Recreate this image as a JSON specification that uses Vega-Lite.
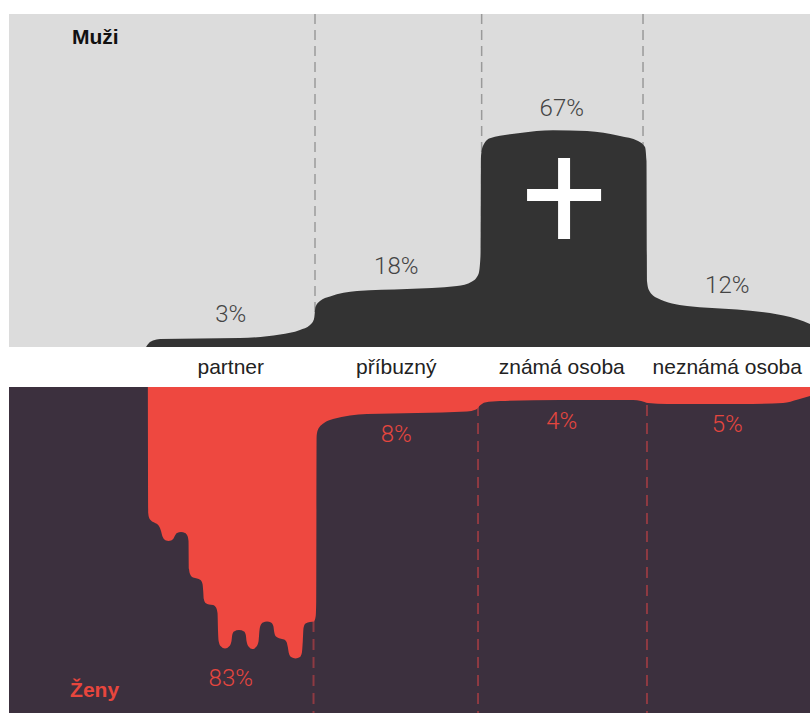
{
  "$schema": "https://vega.github.io/schema/vega-lite/v6.json",
  "background": "white",
  "padding": {"left": 9, "top": 13, "right": 0, "bottom": 0},
  "bounds": "flush",
  "spacing": 40,
  "config": {"view": {"stroke": null}},
  "datasets": {
    "categories": [
      {"category": "partner", "pos": 0.5, "muzi": 0.03, "zeny": 0.83},
      {"category": "příbuzný", "pos": 1.5, "muzi": 0.18, "zeny": 0.08},
      {"category": "známá osoba", "pos": 2.5, "muzi": 0.67, "zeny": 0.04},
      {"category": "neznámá osoba", "pos": 3.5, "muzi": 0.12, "zeny": 0.05}
    ],
    "dividers_muzi": [{"x": 1.009}, {"x": 2.016}, {"x": 2.991}],
    "dividers_zeny": [{"x": 1.0}, {"x": 1.994}, {"x": 3.015}],
    "outline_muzi": [
      {"x": -0.012, "y": 0}, {"x": 0.006, "y": 0.0124}, {"x": 0.03, "y": 0.02}, {"x": 0.073, "y": 0.0248},
      {"x": 0.314, "y": 0.0263}, {"x": 0.556, "y": 0.0279}, {"x": 0.798, "y": 0.0387}, {"x": 0.918, "y": 0.0526},
      {"x": 0.979, "y": 0.0681}, {"x": 1.003, "y": 0.0867}, {"x": 1.012, "y": 0.1238}, {"x": 1.039, "y": 0.1424},
      {"x": 1.1, "y": 0.1563}, {"x": 1.263, "y": 0.1734}, {"x": 1.565, "y": 0.1796}, {"x": 1.867, "y": 0.1889},
      {"x": 1.958, "y": 0.2028}, {"x": 1.997, "y": 0.226}, {"x": 2.009, "y": 0.282}, {"x": 2.012, "y": 0.591},
      {"x": 2.024, "y": 0.622}, {"x": 2.066, "y": 0.646}, {"x": 2.248, "y": 0.6625}, {"x": 2.447, "y": 0.671},
      {"x": 2.653, "y": 0.669}, {"x": 2.852, "y": 0.653}, {"x": 2.961, "y": 0.638}, {"x": 3.003, "y": 0.619},
      {"x": 3.012, "y": 0.576}, {"x": 3.015, "y": 0.204}, {"x": 3.027, "y": 0.176}, {"x": 3.076, "y": 0.152},
      {"x": 3.257, "y": 0.127}, {"x": 3.559, "y": 0.116}, {"x": 3.758, "y": 0.105}, {"x": 3.921, "y": 0.0867},
      {"x": 4.0, "y": 0.0712}
    ],
    "outline_zeny": [
      {"x": -0.001, "y": 0}, {"x": 0.0012, "y": 0.3877}, {"x": 0.006, "y": 0.4015}, {"x": 0.0181, "y": 0.4108},
      {"x": 0.0363, "y": 0.4169}, {"x": 0.0544, "y": 0.4215}, {"x": 0.0695, "y": 0.4308}, {"x": 0.0785, "y": 0.4431},
      {"x": 0.0846, "y": 0.4554}, {"x": 0.0937, "y": 0.4662}, {"x": 0.1088, "y": 0.4723}, {"x": 0.1239, "y": 0.4738},
      {"x": 0.139, "y": 0.4723}, {"x": 0.1541, "y": 0.4662}, {"x": 0.1631, "y": 0.4569}, {"x": 0.1752, "y": 0.4492},
      {"x": 0.1994, "y": 0.4462}, {"x": 0.2236, "y": 0.4492}, {"x": 0.2387, "y": 0.4585}, {"x": 0.2447, "y": 0.4738},
      {"x": 0.2477, "y": 0.56}, {"x": 0.2538, "y": 0.5754}, {"x": 0.2719, "y": 0.5862}, {"x": 0.2961, "y": 0.5892},
      {"x": 0.3172, "y": 0.5938}, {"x": 0.3293, "y": 0.6062}, {"x": 0.3335, "y": 0.6277}, {"x": 0.3372, "y": 0.6523},
      {"x": 0.3474, "y": 0.6646}, {"x": 0.3686, "y": 0.6692}, {"x": 0.3927, "y": 0.6708}, {"x": 0.4109, "y": 0.6785},
      {"x": 0.4199, "y": 0.6954}, {"x": 0.423, "y": 0.7508}, {"x": 0.4266, "y": 0.7815}, {"x": 0.4381, "y": 0.7969},
      {"x": 0.4653, "y": 0.8046}, {"x": 0.4924, "y": 0.7969}, {"x": 0.5045, "y": 0.7815}, {"x": 0.5088, "y": 0.7631},
      {"x": 0.5196, "y": 0.7523}, {"x": 0.5498, "y": 0.7477}, {"x": 0.5801, "y": 0.7523}, {"x": 0.5909, "y": 0.7631},
      {"x": 0.5952, "y": 0.7815}, {"x": 0.6073, "y": 0.7985}, {"x": 0.6314, "y": 0.8062}, {"x": 0.6556, "y": 0.7985},
      {"x": 0.6683, "y": 0.7815}, {"x": 0.6731, "y": 0.7508}, {"x": 0.6798, "y": 0.7338}, {"x": 0.6949, "y": 0.7246},
      {"x": 0.719, "y": 0.7215}, {"x": 0.7432, "y": 0.7246}, {"x": 0.7571, "y": 0.7354}, {"x": 0.7625, "y": 0.7538},
      {"x": 0.7734, "y": 0.7677}, {"x": 0.7976, "y": 0.7738}, {"x": 0.8218, "y": 0.7769}, {"x": 0.8369, "y": 0.7846},
      {"x": 0.8447, "y": 0.8}, {"x": 0.8508, "y": 0.8185}, {"x": 0.864, "y": 0.8308}, {"x": 0.8912, "y": 0.8354},
      {"x": 0.9184, "y": 0.8308}, {"x": 0.9305, "y": 0.8154}, {"x": 0.9353, "y": 0.7815}, {"x": 0.9396, "y": 0.7415},
      {"x": 0.9517, "y": 0.7277}, {"x": 0.9789, "y": 0.7231}, {"x": 1.003, "y": 0.7215}, {"x": 1.0133, "y": 0.7046},
      {"x": 1.0163, "y": 0.6585}, {"x": 1.0187, "y": 0.1538}, {"x": 1.0272, "y": 0.1308}, {"x": 1.0634, "y": 0.1108},
      {"x": 1.1178, "y": 0.0985}, {"x": 1.323, "y": 0.0831}, {"x": 1.625, "y": 0.08}, {"x": 1.927, "y": 0.0754},
      {"x": 1.982, "y": 0.0692}, {"x": 2.009, "y": 0.0554}, {"x": 2.036, "y": 0.0477}, {"x": 2.127, "y": 0.0431},
      {"x": 2.489, "y": 0.04}, {"x": 2.931, "y": 0.04}, {"x": 2.979, "y": 0.0431}, {"x": 3.021, "y": 0.0492},
      {"x": 3.136, "y": 0.0523}, {"x": 3.577, "y": 0.0523}, {"x": 3.837, "y": 0.0492}, {"x": 3.927, "y": 0.0385},
      {"x": 4.0, "y": 0.0277}
    ]
  },
  "vconcat": [
    {
      "width": 801,
      "height": 333,
      "view": {"fill": "#dcdcdc", "stroke": null},
      "layer": [
        {
          "data": {"name": "dividers_muzi"},
          "mark": {"type": "rule", "color": "#9a9a9a", "strokeWidth": 1.5, "strokeDash": [10, 6]},
          "encoding": {
            "x": {"field": "x", "type": "quantitative", "scale": {"domain": [-0.84, 4], "nice": false, "zero": false}, "axis": null}
          }
        },
        {
          "data": {"name": "outline_muzi"},
          "mark": {"type": "area", "interpolate": "monotone", "color": "#333333", "opacity": 1},
          "encoding": {
            "x": {"field": "x", "type": "quantitative", "scale": {"domain": [-0.84, 4], "nice": false, "zero": false}, "axis": null},
            "y": {"field": "y", "type": "quantitative", "scale": {"domain": [0, 1.031], "nice": false}, "axis": null, "stack": null}
          }
        },
        {
          "data": {"name": "categories"},
          "mark": {"type": "text", "font": "Roboto", "fontWeight": 300, "fontSize": 24, "color": "#444444", "baseline": "alphabetic", "dy": -15},
          "encoding": {
            "x": {"field": "pos", "type": "quantitative"},
            "y": {"field": "muzi", "type": "quantitative"},
            "text": {"field": "muzi", "type": "quantitative", "format": ".0%"}
          }
        },
        {
          "data": {"name": "categories"},
          "mark": {"type": "text", "font": "Liberation Sans", "fontSize": 21, "color": "#222222", "baseline": "alphabetic", "dy": 27},
          "encoding": {
            "x": {"field": "pos", "type": "quantitative"},
            "y": {"datum": 0},
            "text": {"field": "category", "type": "nominal"}
          }
        },
        {
          "data": {"values": [{}]},
          "mark": {"type": "point", "shape": "M-0.148,-1H0.148V-0.235H0.914V0.062H0.148V1H-0.148V0.062H-0.914V-0.235H-0.148Z", "size": 6561, "filled": true, "color": "white", "opacity": 1, "strokeWidth": 0},
          "encoding": {
            "x": {"datum": 2.514},
            "y": {"datum": 0.46}
          }
        },
        {
          "data": {"values": [{}]},
          "mark": {"type": "text", "text": "Muži", "font": "Liberation Sans", "fontWeight": "bold", "fontSize": 21, "color": "#111111", "align": "left", "baseline": "alphabetic"},
          "encoding": {
            "x": {"datum": -0.459},
            "y": {"datum": 0.938}
          }
        }
      ]
    },
    {
      "width": 801,
      "height": 327,
      "view": {"fill": "#3c303e", "stroke": null},
      "layer": [
        {
          "data": {"name": "dividers_zeny"},
          "mark": {"type": "rule", "color": "#8e3a42", "strokeWidth": 2, "strokeDash": [11, 7]},
          "encoding": {
            "x": {"field": "x", "type": "quantitative", "scale": {"domain": [-0.84, 4], "nice": false, "zero": false}, "axis": null}
          }
        },
        {
          "data": {"name": "outline_zeny"},
          "mark": {"type": "area", "interpolate": "monotone", "color": "#ee4840", "opacity": 1},
          "encoding": {
            "x": {"field": "x", "type": "quantitative", "scale": {"domain": [-0.84, 4], "nice": false, "zero": false}, "axis": null},
            "y": {"field": "y", "type": "quantitative", "scale": {"domain": [0, 1.006], "nice": false, "reverse": true}, "axis": null, "stack": null}
          }
        },
        {
          "data": {"name": "categories"},
          "mark": {"type": "text", "font": "Roboto", "fontWeight": 300, "fontSize": 24, "color": "#e5463e", "baseline": "alphabetic", "dy": 29},
          "encoding": {
            "x": {"field": "pos", "type": "quantitative"},
            "y": {"field": "zeny", "type": "quantitative"},
            "text": {"field": "zeny", "type": "quantitative", "format": ".0%"}
          }
        },
        {
          "data": {"values": [{}]},
          "mark": {"type": "text", "text": "Ženy", "font": "Liberation Sans", "fontWeight": "bold", "fontSize": 21, "color": "#e8463d", "align": "left", "baseline": "alphabetic"},
          "encoding": {
            "x": {"datum": -0.471},
            "y": {"datum": 0.954}
          }
        }
      ]
    }
  ]
}
